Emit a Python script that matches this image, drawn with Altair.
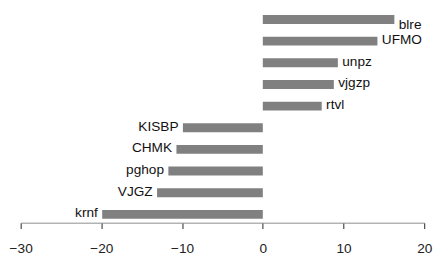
import altair as alt
import pandas as pd

categories = ["blre", "UFMO", "unpz", "vjgzp", "rtvl", "KISBP", "CHMK", "pghop", "VJGZ", "krnf"]
values = [16.3, 14.2, 9.3, 8.8, 7.3, -9.9, -10.7, -11.7, -13.1, -19.9]
x_ticks = [-30, -20, -10, 0, 10, 20]

df = pd.DataFrame({"cat": categories, "val": values})
df["rank"] = range(len(df))

FONT = "Liberation Sans"
FS = 14

y_enc = alt.Y("cat:N", sort=categories, axis=None,
              scale=alt.Scale(paddingInner=0.59, paddingOuter=0.18))
x_enc = alt.X("val:Q", title=None,
              scale=alt.Scale(domain=[-30, 20], nice=False, zero=False),
              axis=alt.Axis(values=x_ticks, grid=False, domainColor="#8c8c8c",
                            domainWidth=1, tickColor="#222222", tickSize=6,
                            tickWidth=1, labelFont=FONT, labelFontSize=FS,
                            labelColor="#222222", labelPadding=14,
                            labelFlush=False))

base = alt.Chart(df).encode(x=x_enc, y=y_enc)

bars = base.mark_bar(color="#808080").encode(x2=alt.datum(0))

pos = base.transform_filter("datum.val > 0 && datum.rank > 0").mark_text(
    align="left", baseline="alphabetic", dx=4.5, dy=3, font=FONT, fontSize=FS, color="#111111"
).encode(text="cat:N")

top = base.transform_filter("datum.rank == 0").mark_text(
    align="left", baseline="alphabetic", dx=4.5, dy=10, font=FONT, fontSize=FS, color="#111111"
).encode(text="cat:N")

neg = base.transform_filter("datum.val < 0").mark_text(
    align="right", baseline="alphabetic", dx=-4.5, dy=3, font=FONT, fontSize=FS, color="#111111"
).encode(text="cat:N")

chart = alt.layer(bars, pos, top, neg).properties(
    width=414, height=217,
    background="white",
    autosize=alt.AutoSizeParams(type="none"),
    padding={"left": 13, "top": 0, "right": 9, "bottom": 34},
).configure_view(strokeWidth=0, stroke="transparent")

chart.save("out.html", embed_options={"renderer": "svg", "actions": False})
